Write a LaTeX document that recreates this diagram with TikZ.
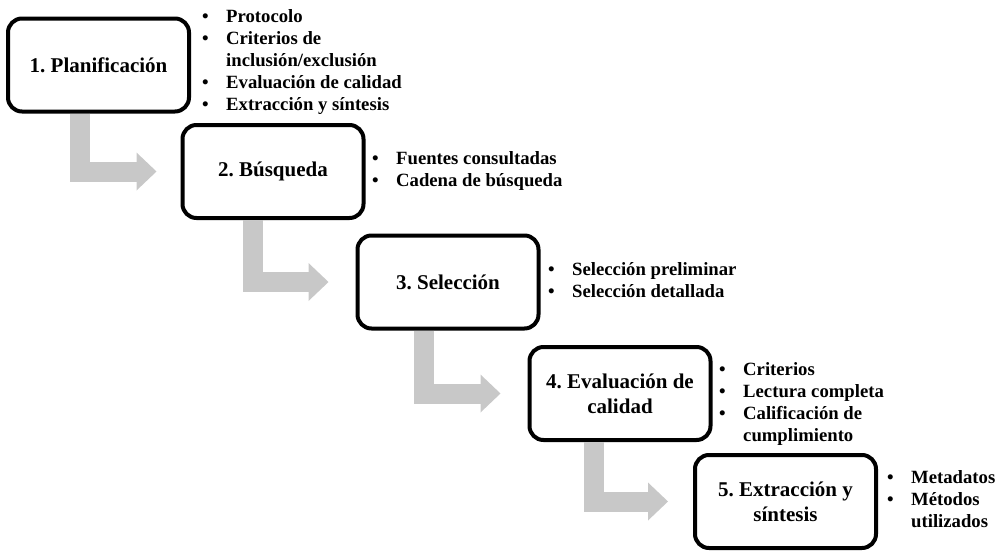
\documentclass[tikz,border=0pt]{standalone}
\usepackage{fontspec}
\setmainfont{Liberation Serif}
\frenchspacing
\usetikzlibrary{positioning,arrows.meta}
\definecolor{flechagris}{RGB}{200,200,200}
\tikzset{
  etapa/.style={draw,line width=4pt,rounded corners=14pt,fill=white,
    minimum width=181pt,minimum height=93pt,align=center,
    font=\fontsize{21}{25}\selectfont\bfseries},
  lista/.style={inner sep=0pt,font=\fontsize{18.7}{22}\selectfont\bfseries},
  flecha/.style={draw=flechagris,line width=20pt,line join=miter,
    -{Triangle[width=38pt,length=20pt,line width=0pt]}},
}
\newcommand{\vinetas}[1]{\begin{tabular}{@{}p{24pt}@{}l@{}}#1\end{tabular}}

\begin{document}
\begin{tikzpicture}[x=1pt,y=-1pt]
\useasboundingbox (0,0) rectangle (999,552);
%etapas
\node[etapa] (b1) at (98.5,65) {1. Planificación};
\node[etapa] (b2) at (273,171.5) {2. Búsqueda};
\node[etapa] (b3) at (448,282) {3. Selección};
\node[etapa] (b4) at (620,393.5) {4. Evaluación de\\calidad};
\node[etapa] (b5) at (785.5,501.5) {5. Extracción y\\síntesis};
%listas
\node[lista,right=11pt of b1,yshift=3pt] (l1) {\vinetas{
  \textbullet & Protocolo\\
  \textbullet & Criterios de\\
              & inclusión/exclusión\\
  \textbullet & Evaluación de calidad\\
  \textbullet & Extracción y síntesis}};
\node[lista,right=6.5pt of b2] (l2) {\vinetas{
  \textbullet & Fuentes consultadas\\
  \textbullet & Cadena de búsqueda}};
\node[lista,right=7.5pt of b3] (l3) {\vinetas{
  \textbullet & Selección preliminar\\
  \textbullet & Selección detallada}};
\node[lista,right=6.5pt of b4,yshift=-11pt] (l4) {\vinetas{
  \textbullet & Criterios\\
  \textbullet & Lectura completa\\
  \textbullet & Calificación de\\
              & cumplimiento}};
\node[lista,right=9pt of b5] (l5) {\vinetas{
  \textbullet & Metadatos\\
  \textbullet & Métodos\\
              & utilizados}};
%flechas
\draw[flecha] ([xshift=74pt]b1.south west) |- ([xshift=-24pt]b2.west);
\draw[flecha] ([xshift=72pt]b2.south west) |- ([xshift=-27pt]b3.west);
\draw[flecha] ([xshift=68pt]b3.south west) |- ([xshift=-27pt]b4.west);
\draw[flecha] ([xshift=66pt]b4.south west) |- ([xshift=-25pt]b5.west);
\end{tikzpicture}
\end{document}
